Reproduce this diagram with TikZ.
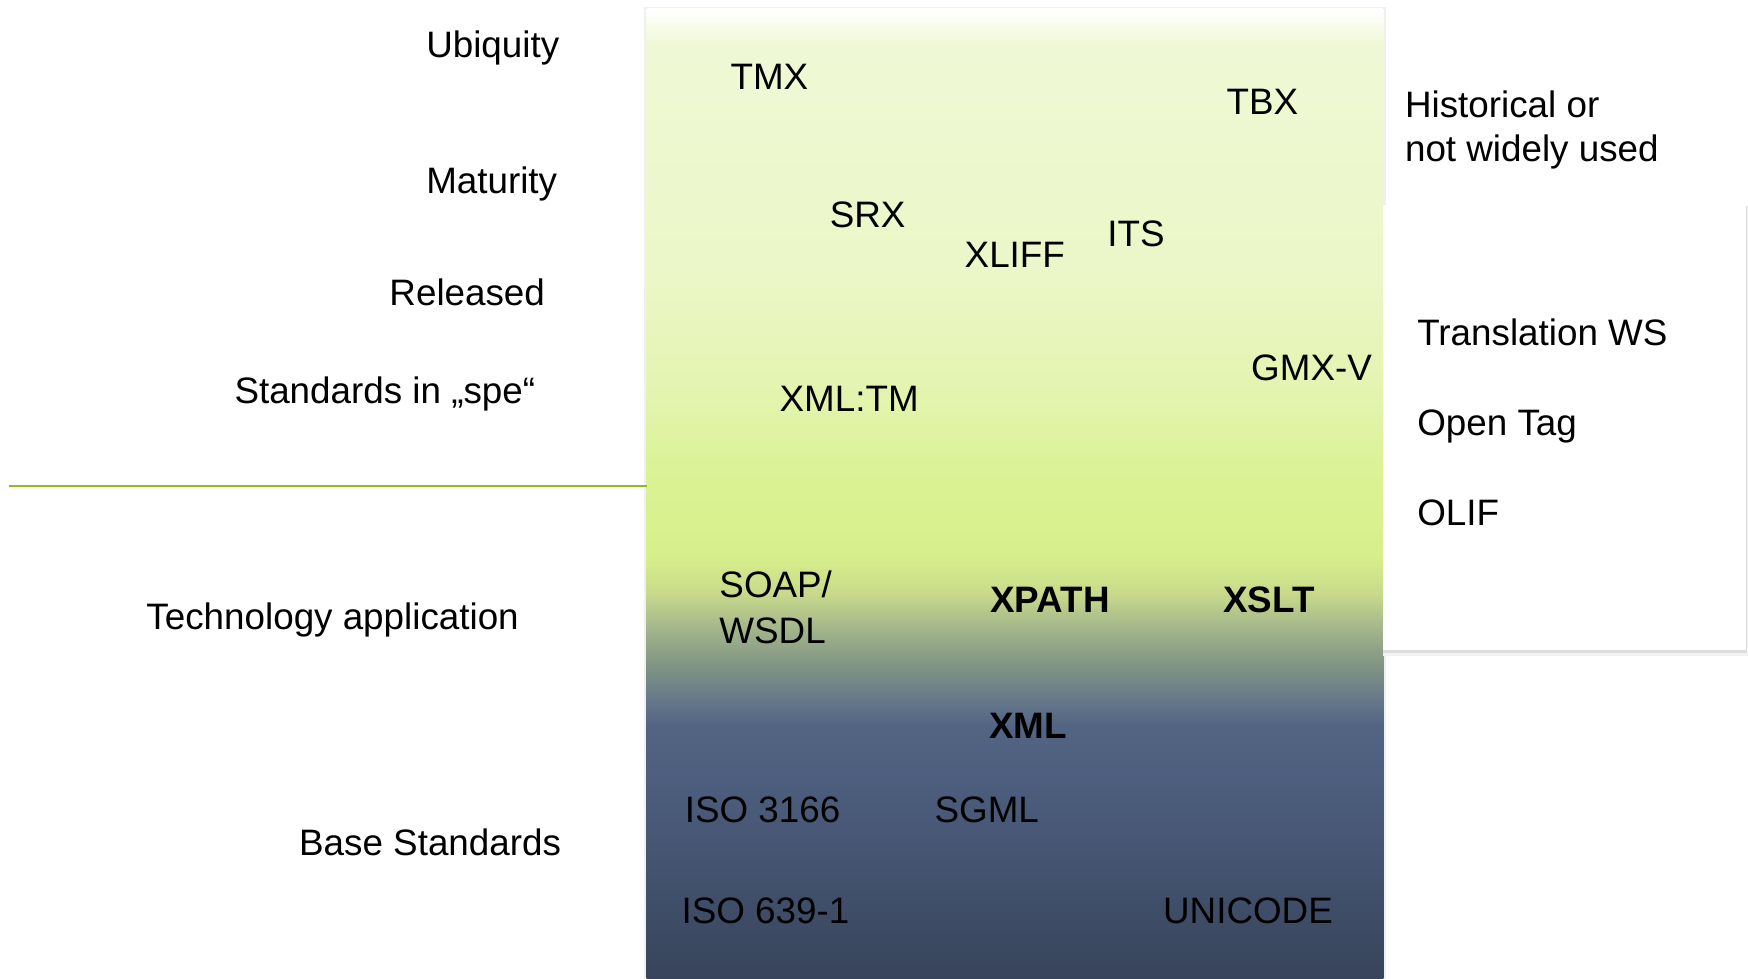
\documentclass[tikz,border=0pt]{standalone}
\usepackage{fontspec}
\setmainfont{Liberation Sans}

% colour stops of the layered stack, bottom to top
\definecolor{stBase}{HTML}{37445B}
\definecolor{stBlueA}{HTML}{4D5E7E}
\definecolor{stBlueB}{HTML}{536583}
\definecolor{stSlate}{HTML}{62758A}
\definecolor{stGrey}{HTML}{7F9384}
\definecolor{stOliveA}{HTML}{A3B58B}
\definecolor{stOliveB}{HTML}{C8D98B}
\definecolor{stLimeA}{HTML}{D8F08B}
\definecolor{stLimeB}{HTML}{DAF293}
\definecolor{stPaleA}{HTML}{E4F4B0}
\definecolor{stPaleB}{HTML}{EBF7C7}
\definecolor{stPaleC}{HTML}{EFF8D5}
\definecolor{stTop}{HTML}{FFFFFF}
\definecolor{ruleGreen}{HTML}{8FBA22}

\pgfdeclareverticalshading{stackshade}{100bp}{%
  color(0bp)=(stBase);
  color(25bp)=(stBase);
  color(35.23bp)=(stBlueA);
  color(38.10bp)=(stBlueB);
  color(39.14bp)=(stSlate);
  color(41.09bp)=(stGrey);
  color(43.05bp)=(stOliveA);
  color(44.83bp)=(stOliveB);
  color(46.90bp)=(stLimeA);
  color(50.75bp)=(stLimeB);
  color(55.34bp)=(stPaleA);
  color(61.09bp)=(stPaleB);
  color(73.16bp)=(stPaleC);
  color(75bp)=(stTop);
  color(100bp)=(stTop)}

\begin{document}
\begin{tikzpicture}[x=0.5574pt, y=-0.5574pt,
  lbl/.style={anchor=base west, inner sep=0pt, text=black,
              font=\fontsize{18.4}{22}\selectfont},
  boldlbl/.style={lbl, font=\fontsize{18.4}{22}\selectfont\bfseries}]

\useasboundingbox (0,0) rectangle (1568,878);
\fill[white] (0,0) rectangle (1568,878);

% soft edge around the stack
\draw[black!6, line width=2.2pt] (580,8) rectangle (1241,880);
\draw[black!14, line width=0.8pt] (580,8) rectangle (1241,880);
% the layered stack itself
\shade[shading=stackshade] (580,8) rectangle (1241,878);

% separator between the upper and lower layers
\coordinate (ruleL) at (8,436);
\coordinate (ruleR) at (580,436);
\draw[ruleGreen, line width=1.3pt] (ruleL) -- (ruleR);

% panel of rarely used formats, with its shadow
\fill[black!5] (1241,185) rectangle (1568,588);
\fill[black!13] (1241,184.5) rectangle (1567,585.5);
\fill[white] (1241,184) rectangle (1566,583);

% layer names
\node[lbl] (ubiq)  at (382,52)  {Ubiquity};
\node[lbl] (matur) at (382,174) {Maturity};
\node[lbl] (relsd) at (349,274) {Released};
\node[lbl] (spe)   at (210,362) {Standards in „spe“};
\node[lbl] (techa) at (131,565) {Technology application};
\node[lbl] (bases) at (268,767) {Base Standards};

% standards in the stack
\node[lbl] (tmx)   at (655,80)  {TMX};
\node[lbl] (tbx)   at (1100,103) {TBX};
\node[lbl] (srx)   at (744,204) {SRX};
\node[lbl] (xliff) at (865,240) {XLIFF};
\node[lbl] (its)   at (993,221) {ITS};
\node[lbl] (gmxv)  at (1122,341) {GMX-V};
\node[lbl] (xmltm) at (699,369) {XML:TM};
\node[lbl] (soap)  at (645,536) {SOAP/};
\node[lbl] (wsdl)  at (645,577) {WSDL};
\node[boldlbl] (xpath) at (888,549) {XPATH};
\node[boldlbl] (xslt)  at (1097,549) {XSLT};
\node[boldlbl] (xml)   at (887,662) {XML};
\node[lbl] (iso3166) at (614,738) {ISO 3166};
\node[lbl] (sgml)    at (838,738) {SGML};
\node[lbl] (iso639)  at (611,828) {ISO 639-1};
\node[lbl] (unicode) at (1043,828) {UNICODE};

% right-hand notes
\node[lbl] (histA) at (1260,105) {Historical or};
\node[lbl] (histB) at (1260,145) {not widely used};
\node[lbl] (transws) at (1271,310) {Translation WS};
\node[lbl] (opentag) at (1271,391) {Open Tag};
\node[lbl] (olif)    at (1271,471) {OLIF};

\end{tikzpicture}
\end{document}
